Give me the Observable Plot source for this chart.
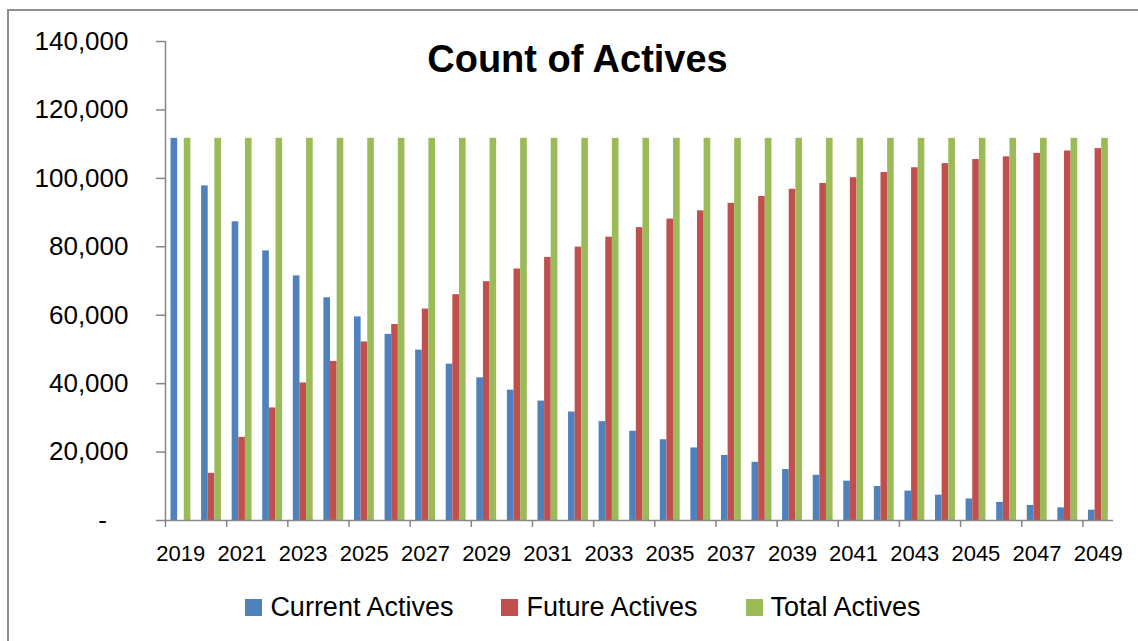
<!DOCTYPE html>
<html>
<head>
<meta charset="utf-8">
<script src="https://cdn.jsdelivr.net/npm/d3@7"></script>
<script src="https://cdn.jsdelivr.net/npm/@observablehq/plot@0.6"></script>
<style>
  body { margin: 0; background: #fff; font-family: "Liberation Sans", Arial, sans-serif; }
  #wrap { position: relative; width: 1138px; height: 641px; overflow: hidden; background: #fff; }
  #frame { position: absolute; left: 7px; top: 9px; width: 1300px; height: 800px; border: 2px solid #8e8e8e; box-sizing: border-box; }
  #chart { position: absolute; left: 0; top: 0; }
  #title { position: absolute; left: 0; width: 1155px; top: 40px; text-align: center; font-weight: bold; font-size: 38px; line-height: 1; color: #000; }
  #legend { position: absolute; left: 0; width: 1166px; top: 594px; text-align: center; font-size: 27px; line-height: 1; color: #000; white-space: nowrap; }
  .item { display: inline-block; margin: 0 24px; }
  .sw { display: inline-block; width: 17px; height: 17px; margin-right: 8px; vertical-align: baseline; }
</style>
</head>
<body>
<div id="wrap">
  <div id="frame"></div>
  <div id="chart"></div>
  <div id="title">Count of Actives</div>
  <div id="legend"></div>
</div>
<script>
// ---- data ----
const years = [2019, 2020, 2021, 2022, 2023, 2024, 2025, 2026, 2027, 2028, 2029, 2030, 2031, 2032, 2033, 2034, 2035, 2036, 2037, 2038, 2039, 2040, 2041, 2042, 2043, 2044, 2045, 2046, 2047, 2048, 2049];
const currentActives = [111700, 97800, 87300, 78800, 71500, 65100, 59500, 54400, 49800, 45700, 41700, 38100, 34900, 31700, 28900, 26100, 23600, 21200, 19000, 17000, 14900, 13200, 11500, 9950, 8600, 7400, 6300, 5300, 4400, 3700, 3000];
const futureActives = [0, 13800, 24300, 32900, 40200, 46500, 52200, 57300, 61800, 66000, 69800, 73500, 76900, 79900, 82800, 85600, 88100, 90500, 92700, 94700, 96800, 98500, 100200, 101700, 103100, 104300, 105500, 106300, 107300, 108000, 108700];
const totalActives = [111700, 111700, 111700, 111700, 111700, 111700, 111700, 111700, 111700, 111700, 111700, 111700, 111700, 111700, 111700, 111700, 111700, 111700, 111700, 111700, 111700, 111700, 111700, 111700, 111700, 111700, 111700, 111700, 111700, 111700, 111700];
const seriesNames = ["Current Actives", "Future Actives", "Total Actives"];
const seriesColors = ["#4F81BD", "#C0504D", "#9BBB59"];
const yTicks = [0, 20000, 40000, 60000, 80000, 100000, 120000, 140000];
const xLabelYears = [2019, 2021, 2023, 2025, 2027, 2029, 2031, 2033, 2035, 2037, 2039, 2041, 2043, 2045, 2047, 2049];

// ---- build table (bars grouped within each year's band) ----
const groupOffset = 0.18;   // fraction of a year band before first bar
const barFrac = 0.2167;     // fraction of a year band per bar
const seriesValues = [currentActives, futureActives, totalActives];
const table = [];
years.forEach((yr, i) => {
  seriesNames.forEach((s, k) => {
    const x1 = yr - 0.5 + groupOffset + k * barFrac;
    table.push({year: yr, series: s, value: seriesValues[k][i], x1, x2: x1 + barFrac});
  });
});
const boundaryTicks = years.filter((y, i) => i % 2 === 0).map(y => y - 0.5);

const axisColor = "#868686";
const nb = "\u00a0";

const chart = Plot.plot({
  width: 1138,
  height: 580,
  marginLeft: 165,
  marginRight: 25,
  marginTop: 41,
  marginBottom: 60,
  style: {fontFamily: "'Liberation Sans', Arial, sans-serif", color: "#000", background: "transparent", overflow: "visible"},
  x: {type: "linear", domain: [years[0] - 0.5, years[years.length - 1] + 0.5], label: null},
  y: {domain: [0, 140000], label: null},
  color: {domain: seriesNames, range: seriesColors},
  marks: [
    Plot.rect(table, {x1: "x1", x2: "x2", y1: 0, y2: "value", fill: "series"}),
    Plot.ruleX([years[0] - 0.5], {stroke: axisColor, strokeWidth: 1.5}),
    Plot.ruleY([0], {stroke: axisColor, strokeWidth: 1.5}),
    Plot.axisY({
      ticks: yTicks, tickSize: 9, tickPadding: 28, fontSize: 26,
      stroke: axisColor, strokeWidth: 1.5, fill: "#000",
      tickFormat: d => d === 0 ? "-" + nb + nb + nb : d3.format(",")(d)
    }),
    Plot.axisX({ticks: boundaryTicks, tickSize: 7, stroke: axisColor, strokeWidth: 1.5, tickFormat: () => ""}),
    Plot.axisX({ticks: xLabelYears, tickSize: 0, tickPadding: 25, fontSize: 22, fill: "#000", tickFormat: d => String(d)})
  ]
});
document.getElementById("chart").appendChild(chart);

// ---- legend ----
const legend = document.getElementById("legend");
seriesNames.forEach((s, k) => {
  const item = document.createElement("span");
  item.className = "item";
  const sw = document.createElement("span");
  sw.className = "sw";
  sw.style.background = seriesColors[k];
  item.appendChild(sw);
  item.appendChild(document.createTextNode(s));
  legend.appendChild(item);
});
</script>
</body>
</html>
